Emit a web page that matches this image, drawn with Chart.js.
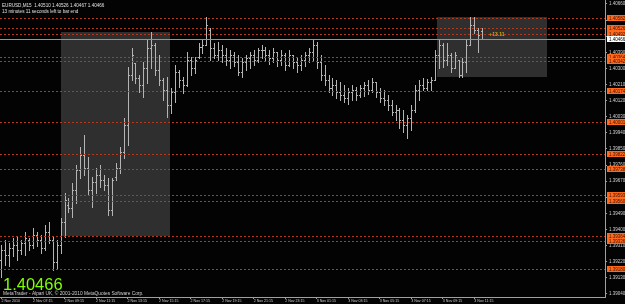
<!DOCTYPE html>
<html>
<head>
<meta charset="utf-8">
<script src="https://cdn.jsdelivr.net/npm/chart.js@4.4.1/dist/chart.umd.min.js"></script>
<style>
  html, body { margin: 0; padding: 0; background: #030303; overflow: hidden; }
  #wrap { width: 625px; height: 304px; position: relative; }
</style>
</head>
<body>
<div id="wrap"><canvas id="chart"></canvas></div>
<script>
// ---- EURUSD M15, 2 Nov 05:15 .. 3 Nov 11:45 (one entry per bar) ----
const opens = [
  1.39229, 1.39284, 1.39257, 1.39296, 1.39312, 1.39284, 1.39324, 1.39340, 1.39312, 1.39368,
  1.39340, 1.39296, 1.39385, 1.39340, 1.39217, 1.39312, 1.39441, 1.39536, 1.39519, 1.39620,
  1.39732, 1.39816, 1.39743, 1.39620, 1.39665, 1.39704, 1.39676, 1.39648, 1.39508, 1.39693,
  1.39743, 1.39832, 1.39983, 1.40263, 1.40330, 1.40246, 1.40207, 1.40302, 1.40414, 1.40430,
  1.40291, 1.40235, 1.40179, 1.40095, 1.40168, 1.40280, 1.40235, 1.40207, 1.40347, 1.40302,
  1.40363, 1.40419, 1.40430, 1.40514, 1.40414, 1.40375, 1.40402, 1.40375, 1.40347, 1.40375,
  1.40335, 1.40280, 1.40335, 1.40358, 1.40375, 1.40347, 1.40402, 1.40402, 1.40375, 1.40358,
  1.40391, 1.40347, 1.40375, 1.40319, 1.40375, 1.40335, 1.40319, 1.40347, 1.40375, 1.40391,
  1.40430, 1.40335, 1.40263, 1.40235, 1.40190, 1.40207, 1.40168, 1.40151, 1.40134, 1.40168,
  1.40179, 1.40151, 1.40190, 1.40207, 1.40179, 1.40224, 1.40168, 1.40134, 1.40123, 1.40095,
  1.40056, 1.40067, 1.40011, 1.39983, 1.40022, 1.40067, 1.40179, 1.40207, 1.40190, 1.40224,
  1.40235, 1.40375, 1.40430, 1.40347, 1.40375, 1.40302, 1.40347, 1.40263, 1.40335, 1.40430,
  1.40542, 1.40514, 1.40510
];
const highs = [
  1.39312, 1.39340, 1.39324, 1.39352, 1.39363, 1.39340, 1.39385, 1.39352, 1.39407, 1.39385,
  1.39368, 1.39424, 1.39441, 1.39357, 1.39340, 1.39463, 1.39603, 1.39575, 1.39659, 1.39760,
  1.39860, 1.39927, 1.39804, 1.39693, 1.39743, 1.39760, 1.39704, 1.39687, 1.39687, 1.39771,
  1.39860, 1.40022, 1.40307, 1.40414, 1.40330, 1.40263, 1.40335, 1.40458, 1.40503, 1.40442,
  1.40375, 1.40246, 1.40252, 1.40190, 1.40319, 1.40291, 1.40252, 1.40391, 1.40363, 1.40363,
  1.40442, 1.40458, 1.40587, 1.40525, 1.40442, 1.40447, 1.40430, 1.40414, 1.40402, 1.40391,
  1.40375, 1.40358, 1.40375, 1.40391, 1.40402, 1.40414, 1.40430, 1.40419, 1.40402, 1.40414,
  1.40391, 1.40402, 1.40386, 1.40402, 1.40375, 1.40358, 1.40375, 1.40391, 1.40414, 1.40458,
  1.40447, 1.40375, 1.40319, 1.40263, 1.40246, 1.40235, 1.40224, 1.40207, 1.40190, 1.40207,
  1.40196, 1.40207, 1.40224, 1.40235, 1.40246, 1.40224, 1.40190, 1.40179, 1.40151, 1.40123,
  1.40095, 1.40078, 1.40067, 1.40039, 1.40095, 1.40207, 1.40235, 1.40246, 1.40240, 1.40252,
  1.40402, 1.40458, 1.40442, 1.40442, 1.40386, 1.40391, 1.40347, 1.40358, 1.40458, 1.40587,
  1.40587, 1.40525, 1.40526
];
const lows = [
  1.39134, 1.39201, 1.39195, 1.39251, 1.39229, 1.39262, 1.39257, 1.39284, 1.39296, 1.39307,
  1.39268, 1.39284, 1.39324, 1.39173, 1.39184, 1.39268, 1.39357, 1.39497, 1.39469, 1.39547,
  1.39687, 1.39704, 1.39592, 1.39525, 1.39603, 1.39637, 1.39620, 1.39480, 1.39480, 1.39676,
  1.39715, 1.39799, 1.39871, 1.40235, 1.40218, 1.40168, 1.40140, 1.40218, 1.40302, 1.40263,
  1.40207, 1.40123, 1.40028, 1.40050, 1.40112, 1.40196, 1.40162, 1.40202, 1.40263, 1.40274,
  1.40358, 1.40386, 1.40430, 1.40347, 1.40358, 1.40347, 1.40335, 1.40319, 1.40302, 1.40313,
  1.40263, 1.40252, 1.40291, 1.40302, 1.40319, 1.40335, 1.40358, 1.40347, 1.40324, 1.40335,
  1.40313, 1.40319, 1.40291, 1.40313, 1.40302, 1.40280, 1.40291, 1.40313, 1.40335, 1.40347,
  1.40302, 1.40235, 1.40207, 1.40168, 1.40151, 1.40134, 1.40123, 1.40112, 1.40101, 1.40123,
  1.40123, 1.40140, 1.40145, 1.40157, 1.40168, 1.40140, 1.40112, 1.40095, 1.40067, 1.40039,
  1.40011, 1.39966, 1.39944, 1.39911, 1.39955, 1.40056, 1.40123, 1.40179, 1.40179, 1.40179,
  1.40235, 1.40302, 1.40307, 1.40319, 1.40280, 1.40302, 1.40252, 1.40252, 1.40280, 1.40430,
  1.40498, 1.40391, 1.40466
];
const closes = [
  1.39284, 1.39257, 1.39296, 1.39312, 1.39284, 1.39324, 1.39352, 1.39312, 1.39368, 1.39340,
  1.39296, 1.39385, 1.39340, 1.39217, 1.39312, 1.39441, 1.39564, 1.39519, 1.39620, 1.39732,
  1.39816, 1.39743, 1.39620, 1.39665, 1.39704, 1.39676, 1.39648, 1.39508, 1.39676, 1.39743,
  1.39832, 1.39983, 1.40263, 1.40375, 1.40246, 1.40207, 1.40302, 1.40414, 1.40430, 1.40291,
  1.40235, 1.40179, 1.40095, 1.40168, 1.40280, 1.40235, 1.40207, 1.40347, 1.40302, 1.40347,
  1.40419, 1.40430, 1.40542, 1.40414, 1.40375, 1.40402, 1.40375, 1.40347, 1.40375, 1.40335,
  1.40280, 1.40335, 1.40358, 1.40375, 1.40347, 1.40402, 1.40402, 1.40375, 1.40358, 1.40391,
  1.40347, 1.40375, 1.40319, 1.40375, 1.40335, 1.40319, 1.40347, 1.40375, 1.40391, 1.40430,
  1.40335, 1.40263, 1.40235, 1.40190, 1.40207, 1.40168, 1.40151, 1.40134, 1.40168, 1.40179,
  1.40151, 1.40190, 1.40207, 1.40179, 1.40224, 1.40168, 1.40134, 1.40123, 1.40095, 1.40056,
  1.40067, 1.40011, 1.39983, 1.40022, 1.40067, 1.40179, 1.40207, 1.40190, 1.40224, 1.40235,
  1.40375, 1.40430, 1.40347, 1.40375, 1.40302, 1.40375, 1.40263, 1.40335, 1.40430, 1.40542,
  1.40514, 1.40486, 1.40466
];

// time axis labels (bar index -> text)
const xTickIndex = [0, 8, 16, 24, 32, 40, 48, 56, 64, 72, 80, 88, 96, 104, 112, 120];
const xTickText = [
  "2 Nov 2010", "2 Nov 07:15", "2 Nov 09:15", "2 Nov 11:15", "2 Nov 13:15", "2 Nov 15:15",
  "2 Nov 17:15", "2 Nov 19:15", "2 Nov 21:15", "2 Nov 23:15", "3 Nov 01:15", "3 Nov 03:15",
  "3 Nov 05:15", "3 Nov 07:15", "3 Nov 09:15", "3 Nov 11:15"
];
// price axis labels
const yTicks = [
  1.40660, 1.40570, 1.40480, 1.40390, 1.40300, 1.40210, 1.40120, 1.40030, 1.39940, 1.39850,
  1.39760, 1.39670, 1.39580, 1.39490, 1.39400, 1.39310, 1.39220, 1.39130, 1.39040
];

// horizontal levels (dotted) and the bid line
const levelPrices = [
  1.40582, 1.40526, 1.40492, 1.40364, 1.40342, 1.40174, 1.40001,
  1.39822, 1.39738, 1.39593, 1.39560, 1.39364, 1.39336, 1.39180
];
const bidPrice = 1.40466;

// rectangle objects (bar index / price)
const boxFrom = [15.1, 110.6];
const boxTo = [42.8, 138.5];
const boxTop = [1.40503, 1.40587];
const boxBottom = [1.39363, 1.40252];
const boxNote = ["", "+13.11"];
const noteAt = [123.8, 1.40488];

const headerText = "EURUSD,M15  1.40510 1.40526 1.40467 1.40466";
const timerText = "13 minutes 11 seconds left to bar end";
const copyText = "MetaTrader - Alpari UK, \u00a9 2001-2010 MetaQuotes Software Corp.";

const FONT = "'Liberation Sans', Arial, sans-serif";

const mt4Draw = {
    id: "mt4Draw",
    beforeDatasetsDraw(chart) {
        const { ctx, chartArea: area, scales: { x, y } } = chart;
        ctx.save();
        ctx.beginPath();
        ctx.rect(area.left, area.top, area.width, area.height);
        ctx.clip();

        // rectangles behind everything
        ctx.fillStyle = "#2f2f2f";
        boxFrom.forEach((f, k) => {
            const x0 = Math.round(x.getPixelForValue(f));
            const x1 = Math.round(x.getPixelForValue(boxTo[k]));
            const y0 = Math.round(y.getPixelForValue(boxTop[k]));
            const y1 = Math.round(y.getPixelForValue(boxBottom[k]));
            ctx.fillRect(x0, y0, x1 - x0, y1 - y0);
        });

        // OHLC bars
        ctx.fillStyle = "#b4b4b4";
        highs.forEach((h, i) => {
            const px = Math.round(x.getPixelForValue(i));
            const hy = Math.round(y.getPixelForValue(h));
            const ly = Math.round(y.getPixelForValue(lows[i]));
            const oy = Math.round(y.getPixelForValue(opens[i]));
            const cy = Math.round(y.getPixelForValue(closes[i]));
            ctx.fillRect(px, hy, 1, Math.max(1, ly - hy + 1));
            ctx.fillRect(px - 1, oy, 1, 1);
            ctx.fillRect(px + 1, cy, 1, 1);
        });

        // dotted levels
        ctx.strokeStyle = "rgb(185,55,25)";
        ctx.lineWidth = 1;
        ctx.setLineDash([2, 2]);
        levelPrices.forEach(p => {
            const py = Math.round(y.getPixelForValue(p)) + 0.5;
            ctx.beginPath();
            ctx.moveTo(area.left, py);
            ctx.lineTo(area.right, py);
            ctx.stroke();
        });
        ctx.setLineDash([]);

        // bid line
        ctx.strokeStyle = "#8a98a0";
        const by = Math.round(y.getPixelForValue(bidPrice)) + 0.5;
        ctx.beginPath();
        ctx.moveTo(area.left, by);
        ctx.lineTo(area.right, by);
        ctx.stroke();

        // rectangle note
        ctx.fillStyle = "#c8a800";
        ctx.font = "bold 5px " + FONT;
        ctx.textBaseline = "middle";
        ctx.fillText(boxNote[1], x.getPixelForValue(noteAt[0]), y.getPixelForValue(noteAt[1]));
        ctx.restore();
    },
    afterDraw(chart) {
        const { ctx, chartArea: area, scales: { y } } = chart;
        ctx.save();

        // price labels for the levels on the axis
        ctx.font = "4.5px " + FONT;
        ctx.textBaseline = "middle";
        levelPrices.forEach(p => {
            const py = Math.round(y.getPixelForValue(p));
            ctx.fillStyle = "rgb(255,105,30)";
            ctx.fillRect(area.right + 2, py - 3, 20, 6);
            ctx.fillStyle = "#3a1000";
            ctx.fillText(p.toFixed(5), area.right + 4, py + 0.5);
        });
        const by = Math.round(y.getPixelForValue(bidPrice));
        ctx.fillStyle = "#ffffff";
        ctx.fillRect(area.right + 2, by - 3, 20, 6);
        ctx.fillStyle = "#000000";
        ctx.fillText(bidPrice.toFixed(5), area.right + 4, by + 0.5);

        // header
        ctx.fillStyle = "#e0e0e0";
        ctx.font = "4.6px " + FONT;
        ctx.textBaseline = "alphabetic";
        ctx.fillText(headerText, 2, 7);
        ctx.fillText(timerText, 2, 13);

        // big bid
        ctx.fillStyle = "#80ff00";
        ctx.font = "16.5px " + FONT;
        ctx.fillText(bidPrice.toFixed(5), 3, 290);

        // copyright
        ctx.fillStyle = "#d0d0d0";
        ctx.font = "4.8px " + FONT;
        ctx.fillText(copyText, 3, 295);
        ctx.restore();
    }
};

const ctx = document.getElementById("chart").getContext("2d");
new Chart(ctx, {
    type: "bar",
    data: {
        datasets: [{
            label: "EURUSD,M15",
            data: highs.map((h, i) => ({ x: i, y: [lows[i], h] })),
            backgroundColor: "rgba(0,0,0,0)",
            barThickness: 1
        }]
    },
    options: {
        responsive: true,
        maintainAspectRatio: false,
        devicePixelRatio: 1,
        animation: false,
        layout: { padding: 0 },
        plugins: { legend: { display: false }, tooltip: { enabled: false } },
        scales: {
            x: {
                type: "linear",
                offset: false,
                min: -0.38,
                max: 153.17,
                afterBuildTicks: scale => { scale.ticks = xTickIndex.map(v => ({ value: v })); },
                afterFit: scale => {
                    scale.height = 7;
                    scale.paddingLeft = 0;
                    scale.paddingRight = 0;
                },
                ticks: {
                    autoSkip: false,
                    maxRotation: 0,
                    align: "start",
                    padding: 0,
                    color: "#d0d0d0",
                    font: { size: 3.6, family: FONT },
                    callback: (v) => xTickText[xTickIndex.indexOf(v)]
                },
                grid: { offset: false, drawOnChartArea: false, tickLength: 2, color: "#a0a0a0" },
                border: { color: "#a0a0a0" }
            },
            y: {
                type: "linear",
                position: "right",
                min: 1.39023,
                max: 1.40682,
                afterBuildTicks: scale => { scale.ticks = yTicks.map(v => ({ value: v })); },
                afterFit: scale => {
                    scale.width = 20;
                    scale.paddingTop = 0;
                    scale.paddingBottom = 0;
                },
                ticks: {
                    autoSkip: false,
                    padding: 2,
                    color: "#d0d0d0",
                    font: { size: 4.5, family: FONT },
                    callback: v => Number(v).toFixed(5)
                },
                grid: { drawOnChartArea: false, tickLength: 2, color: "#a0a0a0" },
                border: { color: "#a0a0a0" }
            }
        }
    },
    plugins: [mt4Draw]
});
</script>
</body>
</html>
